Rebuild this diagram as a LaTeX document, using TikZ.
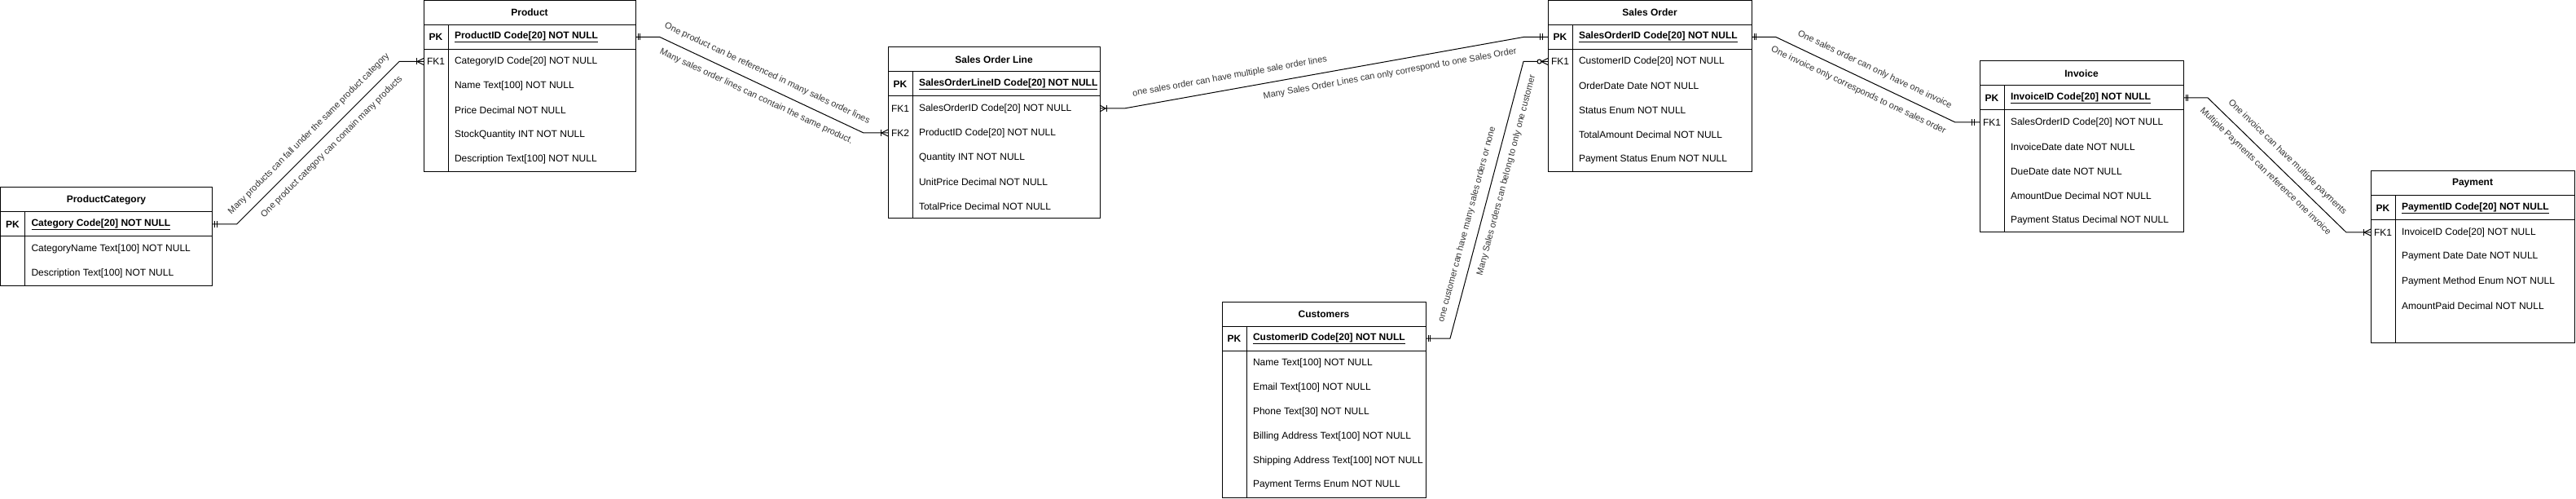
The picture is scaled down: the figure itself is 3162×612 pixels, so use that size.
\documentclass[tikz,border=0pt]{standalone}
\usepackage{fontspec}
\setmainfont{Liberation Sans}
\usetikzlibrary{fit,decorations.markings}

\tikzset{
	enthead/.style={minimum height=30pt, inner sep=0pt, outer sep=0pt, font=\fontsize{12}{14}\selectfont\bfseries},
	entkey/.style={minimum width=30pt, minimum height=30pt, inner sep=0pt, outer sep=0pt, font=\fontsize{12}{14}\selectfont},
	entfield/.style={minimum height=30pt, inner xsep=8pt, inner ysep=0pt, outer sep=0pt, font=\fontsize{12}{14}\selectfont},
	entframe/.style={draw, line width=1pt, inner sep=0pt, outer sep=0pt},
	entline/.style={line width=1pt},
	rel/.style={draw, line width=1pt},
	reltext/.style={font=\fontsize{11}{13}\selectfont, text=black!80, sloped, inner xsep=1pt, inner ysep=10pt},
	bar at/.style={postaction={decorate, decoration={markings, mark=at position #1 with {\draw[line width=1pt] (0,-4pt) -- (0,4pt);}}}},
	crow at/.style={postaction={decorate, decoration={markings, mark=at position #1 with {\draw[line width=1pt] (8pt,4pt) -- (0,0) -- (8pt,-4pt);}}}},
	crow back at/.style={postaction={decorate, decoration={markings, mark=at position #1 with {\draw[line width=1pt] (-7pt,4pt) -- (0,0) -- (-7pt,-4pt);}}}},
	ring at/.style={postaction={decorate, decoration={markings, mark=at position #1 with {\draw[line width=1pt, fill=white] (0,0) circle (2.5pt);}}}},
	one start/.style={bar at=3pt, bar at=5.5pt},
	one end/.style={bar at=-9.5pt, bar at=-7pt},
	many start/.style={crow back at=7pt, bar at=8pt},
	many end/.style={bar at=-9pt, crow at=-8pt},
	none many end/.style={ring at=-10.5pt, crow at=-8pt},
}

\newcommand{\pkname}[1]{\textbf{\underline{#1}}}
\newcommand{\erentity}[6]{
	\node[enthead, minimum width=#4, anchor=north west] (#1) at (#2,#3) {#5};
	\foreach \k/\f [count=\i] in {#6} {
		\node[entkey, anchor=north west] (#1-k\i) at ([yshift={-30*(\i-1)}]#1.south west) {\k};
		\node[entfield, anchor=west] (#1-f\i) at (#1-k\i.east) {\f};
		\xdef\erlast{\i}
	}
	\node[entframe, fit=(#1)(#1-k\erlast)] (#1-box) {};
	\draw[entline] (#1.south west) -- (#1.south east);
	\draw[entline] (#1-k1.south west) -- (#1-k1.south west -| #1.east);
	\draw[entline] (#1-k1.north east) -- (#1-k\erlast.south east);
}

\begin{document}
\begin{tikzpicture}[x=1pt,y=-1pt]
	\useasboundingbox (0,0) rectangle (3162,612);

	\erentity{pc}{0.5}{230}{260}{ProductCategory}{
		{\textbf{PK}}/{\pkname{Category Code[20] NOT NULL}},
		{}/{CategoryName Text[100] NOT NULL},
		{}/{Description Text[100] NOT NULL}}
	\erentity{prod}{520}{0.5}{260}{Product}{
		{\textbf{PK}}/{\pkname{ProductID Code[20] NOT NULL}},
		{FK1}/{CategoryID Code[20] NOT NULL},
		{}/{Name Text[100] NOT NULL},
		{}/{Price Decimal NOT NULL},
		{}/{StockQuantity INT NOT NULL},
		{}/{Description Text[100] NOT NULL}}
	\erentity{sol}{1090}{58}{260}{Sales Order Line}{
		{\textbf{PK}}/{\pkname{SalesOrderLineID Code[20] NOT NULL}},
		{FK1}/{SalesOrderID Code[20] NOT NULL},
		{FK2}/{ProductID Code[20] NOT NULL},
		{}/{Quantity INT NOT NULL},
		{}/{UnitPrice Decimal NOT NULL},
		{}/{TotalPrice Decimal NOT NULL}}
	\erentity{cust}{1500}{370}{250}{Customers}{
		{\textbf{PK}}/{\pkname{CustomerID Code[20] NOT NULL}},
		{}/{Name Text[100] NOT NULL},
		{}/{Email Text[100] NOT NULL},
		{}/{Phone Text[30] NOT NULL},
		{}/{Billing Address Text[100] NOT NULL},
		{}/{Shipping Address Text[100] NOT NULL},
		{}/{Payment Terms Enum NOT NULL}}
	\erentity{so}{1900}{0.5}{250}{Sales Order}{
		{\textbf{PK}}/{\pkname{SalesOrderID Code[20] NOT NULL}},
		{FK1}/{CustomerID Code[20] NOT NULL},
		{}/{OrderDate Date NOT NULL},
		{}/{Status Enum NOT NULL},
		{}/{TotalAmount Decimal NOT NULL},
		{}/{Payment Status Enum NOT NULL}}
	\erentity{inv}{2430}{75}{250}{Invoice}{
		{\textbf{PK}}/{\pkname{InvoiceID Code[20] NOT NULL}},
		{FK1}/{SalesOrderID Code[20] NOT NULL},
		{}/{InvoiceDate date NOT NULL},
		{}/{DueDate date NOT NULL},
		{}/{AmountDue Decimal NOT NULL},
		{}/{Payment Status Decimal NOT NULL}}
	\erentity{pay}{2910}{210}{250}{Payment}{
		{\textbf{PK}}/{\pkname{PaymentID Code[20] NOT NULL}},
		{FK1}/{InvoiceID Code[20] NOT NULL},
		{}/{Payment Date Date NOT NULL},
		{}/{Payment Method Enum NOT NULL},
		{}/{AmountPaid Decimal NOT NULL},
		{}/{}}

	\draw[rel, one start, many end] (pc-k1 -| pc.east) -- ++(30,0)
		-- node[reltext, above, pos=.5] {Many products can fall under the same product category}
		   node[reltext, below, pos=.53] {One product category can contain many products}
		([xshift=-30pt]prod-k2.west) -- (prod-k2.west);
	\draw[rel, one start, many end] (prod-k1 -| prod.east) -- ++(30,0)
		-- node[reltext, above, pos=.5] {One product can be referenced in many sales order lines}
		   node[reltext, below, pos=.5] {Many sales order lines can contain the same product.}
		([xshift=-30pt]sol-k3.west) -- (sol-k3.west);
	\draw[rel, many start, one end] (sol-k2 -| sol.east) -- ++(30,0)
		-- node[reltext, above, pos=.27] {one sales order can have multiple sale order lines}
		   node[reltext, below, pos=.66] {Many Sales Order Lines can only correspond to one Sales Order}
		([xshift=-30pt]so-k1.west) -- (so-k1.west);
	\draw[rel, one start, none many end] (cust-k1 -| cust.east) -- ++(30,0)
		-- node[reltext, above, pos=.4] {one customer can have many sales orders or none}
		   node[reltext, below, pos=.6] {Many Sales orders can belong to only one customer}
		([xshift=-30pt]so-k2.west) -- (so-k2.west);
	\draw[rel, one start, one end] (so-k1 -| so.east) -- ++(30,0)
		-- node[reltext, above, pos=.52] {One sales order can only have one invoice}
		   node[reltext, below, pos=.49] {One invoice only corresponds to one sales order}
		([xshift=-30pt]inv-k2.west) -- (inv-k2.west);
	\draw[rel, one start, many end] (inv-k1 -| inv.east) -- ++(30,0)
		-- node[reltext, above, pos=.51] {One invoice can have multiple payments}
		   node[reltext, below, pos=.48] {Multiple Payments can reference one invoice}
		([xshift=-30pt]pay-k2.west) -- (pay-k2.west);
\end{tikzpicture}
\end{document}
